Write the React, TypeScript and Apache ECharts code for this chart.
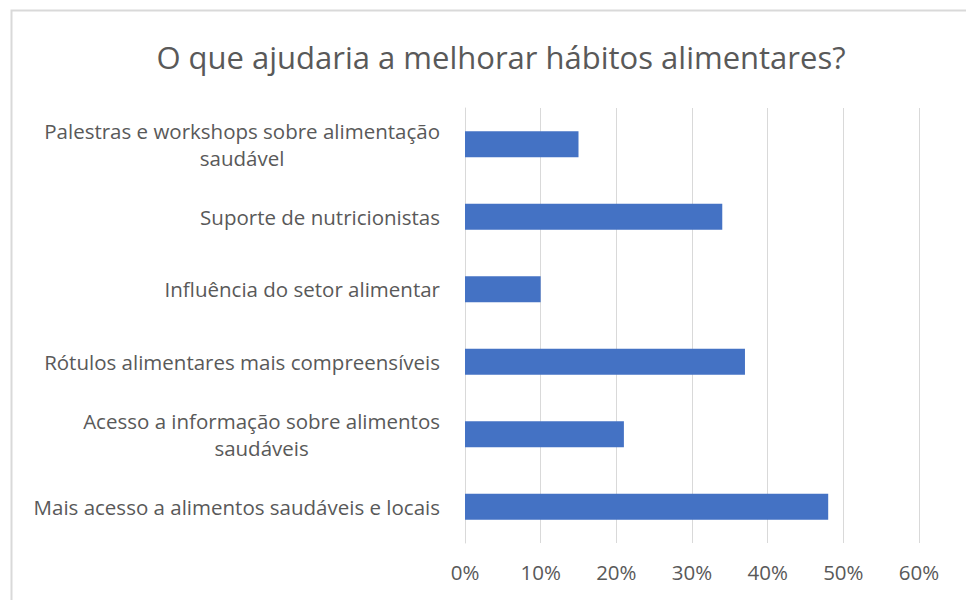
import React, { useEffect, useRef } from "react";
import * as echarts from "echarts";

const titleText = "O que ajudaria a melhorar hábitos alimentares?";
const categories = [
  "Palestras e workshops sobre alimentação\nsaudável",
  "Suporte de nutricionistas",
  "Influência do setor alimentar",
  "Rótulos alimentares mais compreensíveis",
  "Acesso a informação sobre alimentos\nsaudáveis",
  "Mais acesso a alimentos saudáveis e locais",
];
const values = [15, 34, 10, 37, 21, 48];
const axisMin = 0;
const axisMax = 60;
const axisStep = 10;

export default function App() {
  const ref = useRef<HTMLDivElement>(null);
  useEffect(() => {
    if (!ref.current) return;
    const chart = echarts.init(ref.current, null, { renderer: "svg" });
    const font = "'Open Sans', 'Noto Sans', sans-serif";
    chart.setOption({
      animation: false,
      backgroundColor: "#ffffff",
      textStyle: { fontFamily: font },
      title: {
        text: titleText,
        left: 496,
        top: 36,
        textAlign: "center",
        textStyle: { fontFamily: font, fontSize: 31, fontWeight: "normal", color: "#595959" },
      },
      graphic: [
        {
          type: "rect",
          shape: { x: 11.5, y: 10.5, width: 1200, height: 1200 },
          style: { fill: "none", stroke: "#d9d9d9", lineWidth: 2 },
          silent: true,
        },
      ],
      grid: { left: 465, right: 47, top: 108, bottom: 57, containLabel: false },
      xAxis: {
        type: "value",
        min: axisMin,
        max: axisMax,
        interval: axisStep,
        axisLine: { show: false },
        axisTick: { show: false },
        splitLine: { show: true, lineStyle: { color: "#d9d9d9", width: 1 } },
        axisLabel: {
          formatter: (v: number) => `${v}%`,
          color: "#595959",
          fontSize: 20.5,
          fontFamily: font,
          margin: 18,
        },
      },
      yAxis: {
        type: "category",
        data: categories,
        inverse: true,
        axisLine: { show: true, lineStyle: { color: "#d9d9d9", width: 1 } },
        axisTick: { show: false },
        axisLabel: {
          color: "#595959",
          fontSize: 20.5,
          fontFamily: font,
          margin: 25,
          lineHeight: 27,
          formatter: (v: string) =>
            v
              .split("\n")
              .map((l) => `{c|${l}}`)
              .join("\n"),
          rich: {
            c: { align: "center", color: "#595959", fontSize: 20.5, fontFamily: font, lineHeight: 27 },
          },
        },
      },
      series: [
        {
          type: "bar",
          data: values,
          barCategoryGap: "64%",
          itemStyle: { color: "#4472C4" },
        },
      ],
    });
    return () => chart.dispose();
  }, []);
  return (
    <div
      ref={ref}
      style={{ position: "fixed", left: 0, top: 0, width: 966, height: 600, background: "#fff" }}
    />
  );
}
